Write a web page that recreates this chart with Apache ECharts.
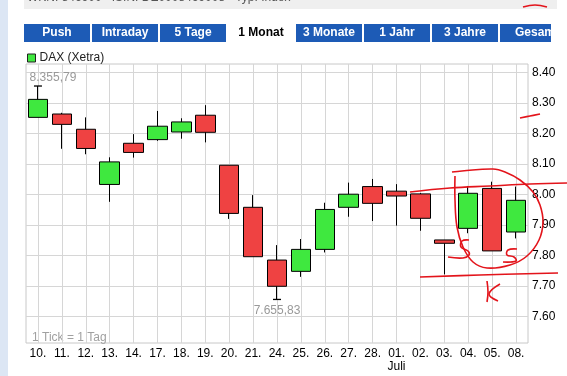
<!DOCTYPE html>
<html>
<head>
<meta charset="utf-8">
<script src="https://cdn.jsdelivr.net/npm/echarts@6/dist/echarts.min.js"></script>
<style>
  html, body { margin: 0; padding: 0; background: #fff; }
  #dax { width: 567px; height: 376px; }
</style>
</head>
<body>
<div id="dax"></div>
<script>
// Tage (Juni / Juli)
const dates = ['10.', '11.', '12.', '13.', '14.', '17.', '18.', '19.', '20.', '21.', '24.',
  '25.', '26.', '27.', '28.', '01.', '02.', '03.', '04.', '05.', '08.'];
const openValues = [8253, 8264, 8214, 8033, 8168, 8180, 8205, 8260, 8096, 7958, 7785,
  7748, 7820, 7958, 8026, 8011, 8002, 7851, 7889, 8020, 7877];
const closeValues = [8312, 8230, 8151, 8107, 8138, 8224, 8238, 8204, 7938, 7796, 7699,
  7820, 7951, 8001, 7971, 7995, 7922, 7840, 8004, 7815, 7981];
const lowValues = [8253, 8150, 8132, 7976, 8121, 8176, 8183, 8171, 7920, 7796, 7655.83,
  7730, 7810, 7927, 7913, 7898, 7881, 7738, 7873, 7815, 7856];
const highValues = [8355.79, 8268, 8253, 8122, 8198, 8274, 8250, 8293, 8096, 7998, 7834,
  7854, 7973, 8039, 8051, 8034, 8005, 7851, 8028, 8042, 8026];
const yTicks = [7600, 7700, 7800, 7900, 8000, 8100, 8200, 8300, 8400];
const tabs = ['Push', 'Intraday', '5 Tage', '1 Monat', '3 Monate', '1 Jahr', '3 Jahre', 'Gesam'];

const candles = dates.map((d, i) => [openValues[i], closeValues[i], lowValues[i], highValues[i]]);

// 8355.79 -> "8.355,79"
function deNum(v) {
  const parts = v.toFixed(2).split('.');
  return parts[0].replace(/\B(?=(\d{3})+(?!\d))/g, '.') + ',' + parts[1];
}

const font = '"Liberation Sans", Arial, sans-serif';
const red = '#e3141b';

// Reiter oben
const tabGraphics = [];
tabs.forEach((t, i) => {
  const x = 24 + i * 68;
  const w = i === tabs.length - 1 ? 51 : 66;
  const active = t === '1 Monat';
  tabGraphics.push({
    type: 'rect', shape: { x: x, y: 24, width: w, height: 18 },
    style: { fill: active ? '#ffffff' : '#1d5bb6' }
  });
  tabGraphics.push({
    type: 'text',
    x: i === tabs.length - 1 ? 515 : x + w / 2, y: 33,
    style: {
      text: t, fill: active ? '#000' : '#fff',
      font: 'bold 12px ' + font,
      align: i === tabs.length - 1 ? 'left' : 'center', verticalAlign: 'middle'
    }
  });
});

// rote Handnotizen
function scribble(points, w) {
  return {
    type: 'polyline', z: 100,
    shape: { points: points, smooth: 0.4 },
    style: { stroke: red, lineWidth: w || 1.6, fill: null }
  };
}
const notes = [
  scribble([[410, 192], [450, 188], [490, 186], [530, 184], [567, 183]]),
  scribble([[452, 172], [462, 171], [493, 169], [505, 172], [520, 180], [533, 192], [540, 205], [543, 222],
    [539, 240], [527, 256], [510, 265], [487, 268], [473, 262], [463, 247], [457, 227], [455, 200], [455, 176]]),
  scribble([[420, 277], [480, 275], [558, 273]]),
  scribble([[469, 240], [462, 241], [461, 247], [468, 251], [469, 255], [463, 258], [448, 257]]),
  scribble([[517, 249], [508, 250], [507, 255], [514, 257], [516, 261], [503, 262]]),
  scribble([[487, 281], [488, 292], [487, 302]]),
  scribble([[500, 284], [489, 294], [498, 301]]),
  scribble([[520, 118], [530, 116], [540, 114]]),
  scribble([[523, 7], [535, 5], [547, 7]])
];

const chart = echarts.init(document.getElementById('dax'), null, { renderer: 'canvas' });

const option = {
  backgroundColor: '#fff',
  animation: false,
  textStyle: { fontFamily: font },
  legend: {
    left: 22, top: 47,
    icon: 'rect', itemWidth: 8, itemHeight: 8, itemGap: 5,
    itemStyle: { borderColor: '#222', borderWidth: 1 },
    textStyle: { fontSize: 12, color: '#222', padding: [0, 0, 0, -1] },
    data: ['DAX (Xetra)']
  },
  grid: {
    left: 26, right: 39, top: 64, bottom: 33,
    show: true, borderColor: '#c8c8c8', borderWidth: 1
  },
  xAxis: {
    type: 'category',
    data: dates,
    boundaryGap: true,
    axisLine: { show: false },
    axisTick: { show: false, alignWithLabel: true },
    splitLine: { show: true, alignWithLabel: true, lineStyle: { color: '#d6d6d6' } },
    axisLabel: {
      interval: 0, margin: 4, color: '#000', fontSize: 12, lineHeight: 13,
      formatter: v => v === '01.' ? v + '\nJuli' : v
    }
  },
  yAxis: {
    type: 'value',
    position: 'right',
    min: 7513, max: 8428,
    axisLine: { show: false },
    axisTick: { show: false, customValues: yTicks },
    splitLine: { show: true, lineStyle: { color: '#d6d6d6' } },
    axisLabel: {
      customValues: yTicks, margin: 4, color: '#000', fontSize: 12,
      formatter: v => (v / 1000).toFixed(2)
    }
  },
  graphic: [
    { type: 'rect', shape: { x: 0, y: 0, width: 8, height: 376 }, style: { fill: '#dce6f4' } },
    { type: 'rect', shape: { x: 24, y: 0, width: 533, height: 9 }, style: { fill: '#efefef' } },
    {
      type: 'text', x: 27, y: 4,
      style: { text: 'WKN: 846900   ISIN: DE0008469008   Typ: Index', fill: '#555', font: '12px ' + font, verticalAlign: 'bottom' }
    },
    {
      type: 'text', x: 32, y: 338,
      style: { text: '1 Tick = 1 Tag', fill: '#a0a0a0', font: '12px ' + font, verticalAlign: 'middle' }
    }
  ].concat(tabGraphics, notes),
  series: [
    {
      name: 'DAX (Xetra)',
      type: 'candlestick',
      data: candles,
      barWidth: 20,
      itemStyle: {
        color: '#3fe83f', color0: '#ef4242',
        borderColor: '#000', borderColor0: '#000', borderWidth: 1
      },
      markPoint: {
        symbol: 'rect', symbolSize: [8, 1.3],
        itemStyle: { color: '#000' },
        label: {
          show: true, color: '#999', fontSize: 12,
          formatter: p => deNum(p.value)
        },
        data: [
          { type: 'max', valueDim: 'highest', label: { offset: [15, -8] } },
          { type: 'min', valueDim: 'lowest', label: { offset: [0, 11] } }
        ]
      }
    }
  ]
};

chart.setOption(option);
</script>
</body>
</html>
